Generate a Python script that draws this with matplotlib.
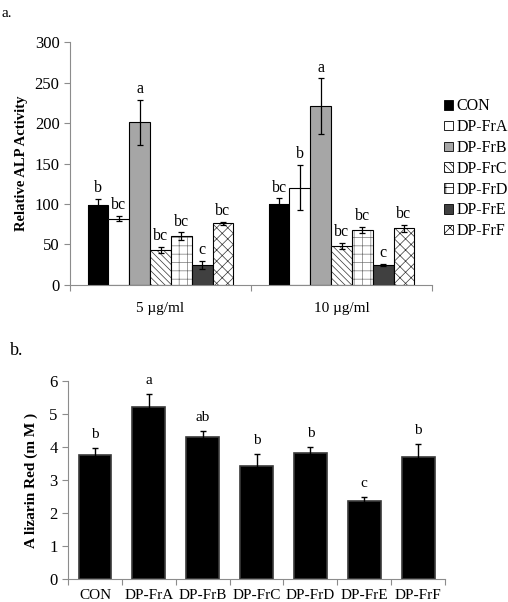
import numpy as np
import matplotlib
matplotlib.use("Agg")
import matplotlib.pyplot as plt  # noqa: E402
from matplotlib.patches import Patch  # noqa: E402

# panel a: relative ALP activity
doses = ["5 \u00b5g/ml", "10 \u00b5g/ml"]
fractions = ["CON", "DP-FrA", "DP-FrB", "DP-FrC", "DP-FrD", "DP-FrE", "DP-FrF"]
alp_5 = [99, 82, 201, 43, 60, 25, 76]
alp_5_err = [7, 3, 28, 4, 5, 5, 2]
alp_5_sig = ["b", "bc", "a", "bc", "bc", "c", "bc"]
alp_10 = [100, 120, 221, 48, 68, 25, 70]
alp_10_err = [7, 28, 34, 4, 4, 1, 4]
alp_10_sig = ["bc", "b", "a", "bc", "bc", "c", "bc"]

# panel b: alizarin red
ar_vals = [3.75, 5.22, 4.30, 3.42, 3.82, 2.35, 3.69]
ar_err = [0.22, 0.40, 0.20, 0.37, 0.19, 0.14, 0.40]
ar_sig = ["b", "a", "ab", "b", "b", "c", "b"]

plt.rcParams["font.family"] = ["Liberation Serif", "DejaVu Serif"]
plt.rcParams["hatch.linewidth"] = 0.5

faces = ["black", "white", "#a6a6a6", "white", "white", "#404040", "white"]
hatches = [None, None, None, "\\\\\\\\\\", "++", None, "xxx"]
hatch_cols = ["black", "black", "black", "#333333", "#777777", "black", "#333333"]
axis_grey = "#8c8c8c"

fig = plt.figure(figsize=(5.08, 6.02), dpi=100)

# ---- panel a ----
ax1 = fig.add_axes([0.1378, 0.5266, 0.7126, 0.4036])
w = 0.115
for j, name in enumerate(fractions):
    xs = np.array([0.5, 1.5]) + (j - 3) * w
    vals = [alp_5[j], alp_10[j]]
    errs = [alp_5_err[j], alp_10_err[j]]
    # fill + hatch in its own colour, then a black outline on top
    ax1.bar(xs, vals, width=w, color=faces[j], edgecolor=hatch_cols[j],
            linewidth=0, hatch=hatches[j])
    ax1.bar(xs, vals, width=w, fill=False, edgecolor="black", linewidth=0.8)
    ax1.errorbar(xs, vals, yerr=errs, fmt="none", ecolor="black",
                 elinewidth=0.9, capsize=2.2, capthick=0.9)
    for x, v, e, s in zip(xs, vals, errs, [alp_5_sig[j], alp_10_sig[j]]):
        ax1.annotate(s, (x, v + e), xytext=(0, 2), textcoords="offset points",
                     ha="center", va="bottom", fontsize=11.5)

ax1.set_xlim(0, 2)
ax1.set_ylim(0, 300)
ax1.set_yticks(np.arange(0, 301, 50))
ax1.set_xticks([0, 1, 2])
ax1.set_xticklabels([])
ax1.set_xticks([0.5, 1.5], minor=True)
ax1.set_xticklabels(doses, minor=True, fontsize=11)
ax1.tick_params(axis="x", which="minor", length=0, pad=12)
ax1.tick_params(axis="x", which="major", length=4, color=axis_grey)
ax1.tick_params(axis="y", length=4, color=axis_grey, labelsize=12)
ax1.set_ylabel("Relative ALP Activity", fontsize=10.5, fontweight="bold", labelpad=5)
for sp in ["top", "right"]:
    ax1.spines[sp].set_visible(False)
for sp in ["left", "bottom"]:
    ax1.spines[sp].set_color(axis_grey)

handles = [Patch(facecolor=faces[j], edgecolor="black", linewidth=0.6,
                 hatch=hatches[j], label=fractions[j]) for j in range(7)]
fig.legend(handles=handles, loc="upper left", bbox_to_anchor=(0.862, 0.847),
           frameon=False, fontsize=11.5, handlelength=0.55, handleheight=0.55,
           handletextpad=0.2, labelspacing=0.3, borderaxespad=0)

# ---- panel b ----
ax2 = fig.add_axes([0.1339, 0.0382, 0.7421, 0.3289])
xb = np.arange(len(fractions))
ax2.bar(xb, ar_vals, width=0.61, color="black", edgecolor="#3a3a3a", linewidth=1.2)
ax2.errorbar(xb, ar_vals, yerr=ar_err, fmt="none", ecolor="black",
             elinewidth=1.0, capsize=2.2, capthick=1.0)
for x, v, e, s in zip(xb, ar_vals, ar_err, ar_sig):
    ax2.annotate(s, (x, v + e), xytext=(0, 5), textcoords="offset points",
                 ha="center", va="bottom", fontsize=11)
ax2.set_xlim(-0.5, len(fractions) - 0.5)
ax2.set_ylim(0, 6)
ax2.set_yticks(range(0, 7))
ax2.set_xticks(np.arange(-0.5, len(fractions)))
ax2.set_xticklabels([])
ax2.set_xticks(xb, minor=True)
ax2.set_xticklabels(fractions, minor=True, fontsize=11)
ax2.tick_params(axis="x", which="minor", length=0, pad=7)
ax2.tick_params(axis="x", which="major", length=4, color=axis_grey)
ax2.tick_params(axis="y", length=4, color=axis_grey, labelsize=12)
ax2.set_ylabel("A lizarin Red (m M )", fontsize=11, fontweight="bold", labelpad=8)
for sp in ["top", "right"]:
    ax2.spines[sp].set_visible(False)
for sp in ["left", "bottom"]:
    ax2.spines[sp].set_color(axis_grey)

fig.text(0.002, 0.988, "a.", fontsize=11, va="top", ha="left")
fig.text(0.02, 0.432, "b.", fontsize=13, va="top", ha="left")

fig.savefig("out.png", dpi=100)
